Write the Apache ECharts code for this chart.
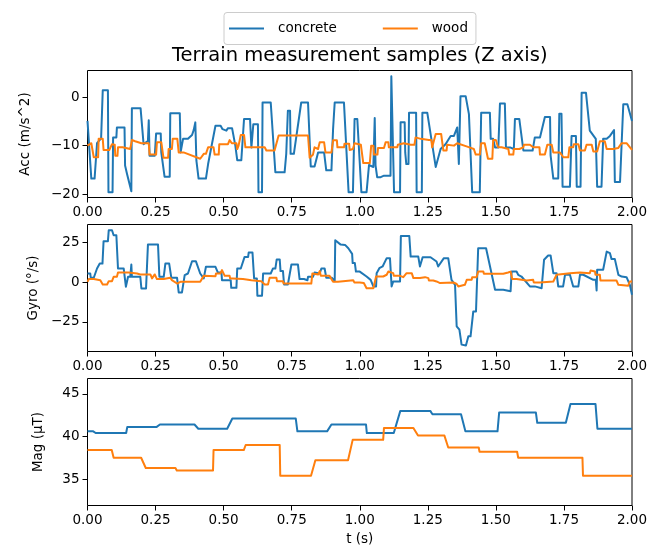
<!DOCTYPE html>
<html><head><meta charset="utf-8">
<script src="https://cdn.jsdelivr.net/npm/echarts@6/dist/echarts.min.js"></script>
<style>html,body{margin:0;padding:0;background:#fff}#c{width:660px;height:551px}</style>
</head><body><div id="c"></div>
<script>
// ---- data ----
const seriesNames = ['concrete', 'wood'];
const panelLabels = ['Acc (m/s^2)', 'Gyro (\u00b0/s)', 'Mag (\u00b5T)'];
const xTickValues = [0, 0.25, 0.5, 0.75, 1, 1.25, 1.5, 1.75, 2];
const accTicks = [-20, -10, 0];
const gyroTicks = [-25, 0, 25];
const magTicks = [35, 40, 45];

const accConcrete = [[0,-4.9],[0.002,-4.9],[0.014,-16.8],[0.026,-16.8],[0.035,-9.5],[0.05,-8.5],[0.056,1.4],[0.075,1.4],[0.077,-19.6],[0.092,-19.6],[0.094,-8.3],[0.106,-8.3],[0.108,-6.25],[0.136,-6.25],[0.138,-14.1],[0.145,-15.8],[0.161,-19.4],[0.163,-2.3],[0.195,-2.3],[0.206,-9.7],[0.222,-9.0],[0.225,-4.75],[0.228,-12.1],[0.247,-12.1],[0.252,-7.5],[0.269,-7.5],[0.271,-11.4],[0.283,-16.4],[0.302,-16.4],[0.304,-3.3],[0.339,-3.3],[0.342,-11.4],[0.349,-11.4],[0.351,-8.6],[0.369,-8.6],[0.384,-7.8],[0.39,-6.8],[0.396,-5.2],[0.4,-13.1],[0.408,-16.8],[0.435,-16.8],[0.443,-13.8],[0.47,-5.9],[0.489,-5.9],[0.496,-6.6],[0.51,-6.9],[0.516,-6.4],[0.531,-6.4],[0.543,-10.0],[0.55,-13.0],[0.565,-13.0],[0.575,-4.5],[0.597,-4.5],[0.602,-10.4],[0.607,-10.4],[0.609,-5.6],[0.626,-5.6],[0.628,-19.6],[0.641,-19.6],[0.643,-1.1],[0.673,-1.1],[0.69,-15.5],[0.724,-15.5],[0.73,-11.7],[0.736,-2.8],[0.744,-2.8],[0.746,-11.7],[0.758,-11.7],[0.785,-1.1],[0.81,-1.1],[0.82,-14.3],[0.834,-14.3],[0.847,-11.4],[0.869,-11.4],[0.877,-15.1],[0.896,-15.1],[0.902,-6.6],[0.908,-1.1],[0.942,-1.1],[0.959,-19.6],[0.975,-19.6],[0.981,-4.5],[0.991,-4.5],[1.006,-19.6],[1.025,-19.6],[1.034,-14.0],[1.05,-14.4],[1.055,-4.3],[1.058,-14.1],[1.064,-16.5],[1.077,-16.5],[1.089,-16.2],[1.113,-16.2],[1.116,4.3],[1.123,4.3],[1.126,-19.6],[1.148,-19.6],[1.15,-5.2],[1.165,-5.2],[1.167,-11.4],[1.171,-13.8],[1.179,-13.8],[1.181,-3.2],[1.207,-3.2],[1.209,-19.6],[1.228,-19.6],[1.23,-3.2],[1.248,-3.2],[1.266,-9.7],[1.279,-14.4],[1.285,-14.4],[1.297,-10.7],[1.315,-9.7],[1.334,-8.0],[1.346,-8.0],[1.358,-6.25],[1.364,-13.8],[1.37,0.2],[1.389,0.2],[1.401,-3.5],[1.413,-19.6],[1.441,-19.6],[1.446,-3.2],[1.478,-3.2],[1.481,-8.6],[1.49,-8.6],[1.497,-10.4],[1.509,-10.4],[1.515,-1.33],[1.533,-1.33],[1.537,-10.4],[1.554,-10.4],[1.566,-10.7],[1.57,-4.5],[1.586,-4.5],[1.601,-11.0],[1.635,-11.0],[1.643,-8.3],[1.662,-8.3],[1.68,-4.1],[1.699,-4.1],[1.701,-12.0],[1.711,-16.8],[1.729,-16.8],[1.733,-3.4],[1.741,-3.4],[1.745,-18.5],[1.772,-18.5],[1.778,-8.0],[1.794,-8.0],[1.797,-18.5],[1.811,-18.5],[1.815,0.9],[1.831,0.9],[1.845,-6.9],[1.867,-8.6],[1.872,-18.5],[1.888,-18.5],[1.894,-8.6],[1.907,-8.6],[1.919,-8.0],[1.934,-6.8],[1.937,-17.5],[1.956,-17.5],[1.968,-1.47],[1.983,-1.47],[2.0,-4.9]];

const accWood = [[0,-10.0],[0.014,-9.5],[0.023,-12.4],[0.039,-12.4],[0.041,-8.6],[0.056,-8.6],[0.059,-10.9],[0.08,-10.9],[0.09,-9.7],[0.1,-9.8],[0.102,-12.1],[0.11,-12.1],[0.112,-10.35],[0.129,-10.35],[0.133,-10.7],[0.157,-10.7],[0.163,-8.85],[0.175,-9.1],[0.198,-9.5],[0.225,-9.5],[0.228,-11.85],[0.252,-11.85],[0.255,-9.3],[0.271,-9.3],[0.279,-12.5],[0.296,-12.5],[0.298,-10.7],[0.31,-10.7],[0.313,-8.6],[0.33,-8.6],[0.335,-11.4],[0.353,-11.4],[0.414,-12.7],[0.427,-11.7],[0.435,-11.7],[0.443,-10.35],[0.463,-10.35],[0.467,-11.85],[0.482,-11.85],[0.484,-9.7],[0.516,-9.7],[0.522,-8.85],[0.53,-9.5],[0.547,-9.5],[0.55,-10.7],[0.555,-10.0],[0.561,-10.0],[0.563,-7.8],[0.575,-7.8],[0.58,-10.35],[0.651,-10.35],[0.657,-11.0],[0.687,-11.0],[0.702,-7.9],[0.81,-7.9],[0.816,-12.5],[0.828,-11.9],[0.834,-10.35],[0.847,-10.7],[0.853,-9.3],[0.869,-9.3],[0.874,-11.4],[0.896,-11.4],[0.902,-8.9],[0.916,-8.9],[0.918,-10.35],[0.942,-10.35],[0.944,-9.6],[0.961,-9.6],[0.963,-10.9],[0.975,-10.7],[0.981,-9.5],[1.004,-9.8],[1.013,-13.6],[1.037,-13.6],[1.042,-10.0],[1.05,-10.0],[1.052,-11.85],[1.065,-11.85],[1.067,-10.5],[1.089,-10.5],[1.095,-9.3],[1.105,-9.3],[1.107,-10.35],[1.138,-10.35],[1.14,-9.8],[1.162,-9.5],[1.187,-9.8],[1.201,-9.8],[1.205,-8.3],[1.224,-8.6],[1.254,-8.85],[1.263,-8.85],[1.266,-10.35],[1.272,-10.35],[1.279,-7.6],[1.299,-7.6],[1.307,-11.0],[1.319,-11.0],[1.321,-9.8],[1.346,-10.0],[1.358,-9.5],[1.395,-10.2],[1.419,-10.7],[1.426,-11.85],[1.441,-11.85],[1.446,-9.5],[1.459,-9.5],[1.471,-12.7],[1.487,-12.7],[1.49,-8.85],[1.5,-8.85],[1.508,-10.35],[1.521,-10.35],[1.527,-10.7],[1.546,-10.7],[1.549,-11.85],[1.564,-11.85],[1.566,-10.7],[1.586,-10.7],[1.601,-10.35],[1.603,-9.8],[1.625,-9.8],[1.637,-10.35],[1.66,-10.35],[1.662,-11.85],[1.68,-11.85],[1.689,-9.8],[1.705,-9.8],[1.711,-11.4],[1.735,-11.4],[1.748,-12.4],[1.766,-12.4],[1.77,-10.35],[1.784,-10.35],[1.786,-9.7],[1.803,-9.7],[1.809,-11.0],[1.827,-11.0],[1.833,-9.8],[1.852,-9.8],[1.858,-11.2],[1.872,-11.2],[1.882,-9.1],[1.9,-9.1],[1.907,-10.7],[1.931,-10.7],[1.949,-10.5],[1.962,-9.5],[1.98,-9.5],[2.0,-10.9]];

const gyroConcrete = [[0,5.4],[0.01,5.4],[0.012,2.7],[0.023,2.7],[0.035,8.5],[0.045,11.6],[0.055,11.6],[0.059,25.6],[0.075,25.6],[0.078,32.5],[0.09,32.5],[0.096,29.4],[0.106,29.4],[0.112,8.5],[0.133,8.5],[0.141,-2.9],[0.149,3.3],[0.157,3.3],[0.161,11.0],[0.163,3.3],[0.194,3.3],[0.198,-4.0],[0.215,-4.0],[0.222,23.5],[0.259,23.5],[0.264,3.3],[0.28,3.3],[0.286,11.6],[0.3,11.6],[0.308,2.7],[0.329,2.7],[0.335,-6.5],[0.347,-6.5],[0.357,4.4],[0.369,5.4],[0.384,13.1],[0.398,13.1],[0.414,5.4],[0.427,2.3],[0.433,2.3],[0.435,9.6],[0.47,9.6],[0.479,6.0],[0.492,6.0],[0.494,1.2],[0.526,1.2],[0.528,-3.6],[0.547,-3.6],[0.55,8.5],[0.563,8.5],[0.577,15.8],[0.59,15.8],[0.592,18.5],[0.606,18.5],[0.612,2.3],[0.622,2.3],[0.624,-8.6],[0.641,-8.6],[0.645,5.4],[0.673,5.4],[0.681,8.5],[0.69,8.5],[0.695,14.2],[0.706,14.2],[0.709,6.9],[0.718,6.9],[0.722,-1.5],[0.736,-1.5],[0.749,11.0],[0.773,11.0],[0.779,1.9],[0.795,1.9],[0.808,1.2],[0.81,3.3],[0.828,3.3],[0.834,6.0],[0.853,5.4],[0.859,8.5],[0.871,8.5],[0.877,2.7],[0.898,2.7],[0.908,0.6],[0.91,26.2],[0.93,23.5],[0.946,23.3],[0.958,21.2],[0.972,17.7],[0.974,11.9],[0.982,11.9],[0.986,6.6],[1.0,6.6],[1.025,3.5],[1.04,1.4],[1.05,-2.7],[1.06,-2.7],[1.062,5.6],[1.072,8.7],[1.084,9.8],[1.099,15.0],[1.111,15.0],[1.117,-2.7],[1.123,0.4],[1.148,0.4],[1.151,28.9],[1.182,28.9],[1.187,16.0],[1.215,16.0],[1.221,9.8],[1.227,9.8],[1.231,15.6],[1.26,15.6],[1.282,12.9],[1.288,9.8],[1.295,9.8],[1.309,15.0],[1.325,15.0],[1.337,1.4],[1.35,-1.7],[1.356,-27.7],[1.366,-29.8],[1.374,-39.2],[1.39,-39.8],[1.399,-34.0],[1.407,-34.0],[1.417,-18.4],[1.427,-18.4],[1.435,21.2],[1.464,21.2],[1.468,18.1],[1.497,-4.8],[1.527,-4.8],[1.554,-5.8],[1.558,6.6],[1.576,6.6],[1.582,4.6],[1.594,3.5],[1.625,-2.7],[1.643,-2.7],[1.668,-3.8],[1.677,14.0],[1.692,16.7],[1.701,16.7],[1.711,5.6],[1.723,5.6],[1.729,-2.7],[1.747,-2.7],[1.754,4.6],[1.772,4.6],[1.784,-2.7],[1.803,-2.7],[1.809,4.6],[1.821,4.6],[1.858,1.4],[1.867,1.4],[1.87,-5.2],[1.872,7.7],[1.894,7.7],[1.907,19.1],[1.919,18.1],[1.925,14.4],[1.937,14.4],[1.95,4.6],[1.962,3.5],[1.98,3.1],[1.992,-1.7],[2.0,-7.9]];

const gyroWood = [[0,0.2],[0.005,1.9],[0.023,1.9],[0.029,1.2],[0.047,1.2],[0.056,-1.5],[0.072,-1.5],[0.078,0.6],[0.09,0.6],[0.096,3.3],[0.108,3.3],[0.112,6.0],[0.151,6.0],[0.155,5.4],[0.182,5.4],[0.194,4.8],[0.231,4.8],[0.237,2.3],[0.243,2.3],[0.247,4.8],[0.25,4.8],[0.255,1.9],[0.28,1.9],[0.283,2.7],[0.304,2.7],[0.31,1.2],[0.329,-0.9],[0.341,0.2],[0.347,1.2],[0.414,0.2],[0.421,-0.9],[0.427,3.9],[0.47,3.7],[0.472,5.4],[0.488,5.4],[0.494,7.5],[0.498,7.9],[0.504,3.9],[0.522,3.9],[0.524,2.3],[0.534,2.3],[0.536,1.9],[0.571,1.9],[0.573,1.2],[0.602,1.2],[0.604,0.6],[0.638,0.6],[0.651,-1.5],[0.663,-1.5],[0.669,2.7],[0.694,2.7],[0.696,0.6],[0.718,0.6],[0.72,-0.9],[0.822,-0.9],[0.826,5.4],[0.847,4.8],[0.853,6.9],[0.857,3.9],[0.889,3.9],[0.902,0.2],[0.92,0.2],[0.922,1.2],[0.976,1.2],[0.98,-0.2],[1.0,-0.2],[1.002,-0.6],[1.015,-0.6],[1.025,-3.8],[1.05,-3.8],[1.06,3.5],[1.086,3.5],[1.088,4.6],[1.099,4.6],[1.105,6.6],[1.107,5.6],[1.123,5.6],[1.125,3.9],[1.148,3.9],[1.15,3.1],[1.16,3.1],[1.172,5.6],[1.191,5.6],[1.197,2.5],[1.221,2.5],[1.223,3.1],[1.24,3.1],[1.242,2.5],[1.252,2.5],[1.254,1.0],[1.27,1.0],[1.272,0.4],[1.282,0.4],[1.284,-0.6],[1.295,-0.6],[1.297,-0.2],[1.344,-0.2],[1.346,-1.2],[1.356,-1.2],[1.362,-2.7],[1.364,-1.7],[1.386,-1.7],[1.393,1.4],[1.411,1.4],[1.413,3.1],[1.429,3.1],[1.435,6.6],[1.454,6.6],[1.456,5.2],[1.527,5.2],[1.529,6.0],[1.545,6.0],[1.547,6.6],[1.554,6.6],[1.558,3.5],[1.56,1.9],[1.576,1.9],[1.578,1.0],[1.613,1.0],[1.615,1.4],[1.637,1.4],[1.639,-0.2],[1.662,-0.2],[1.664,0.4],[1.711,0.4],[1.723,4.6],[1.725,5.6],[1.772,5.6],[1.774,6.0],[1.809,6.0],[1.811,5.6],[1.845,5.6],[1.848,7.3],[1.85,6.6],[1.864,6.6],[1.866,4.6],[1.882,4.6],[1.884,1.0],[1.943,1.0],[1.95,-1.7],[1.952,-2.3],[1.986,-2.3],[1.992,0.4],[2.0,0.4]];

const magConcrete = [[0,40.6],[0.021,40.6],[0.03,40.4],[0.142,40.4],[0.146,41.1],[0.253,41.1],[0.266,41.4],[0.393,41.4],[0.407,40.9],[0.513,40.9],[0.532,42.1],[0.765,42.1],[0.771,40.6],[0.88,40.6],[0.896,41.4],[1.023,41.4],[1.026,40.4],[1.125,40.4],[1.149,43.0],[1.259,43.0],[1.267,42.6],[1.372,42.6],[1.388,40.6],[1.506,40.6],[1.512,42.8],[1.647,42.8],[1.652,41.6],[1.757,41.6],[1.774,43.8],[1.866,43.8],[1.873,40.9],[2.0,40.9]];

const magWood = [[0,38.4],[0.089,38.4],[0.096,37.5],[0.197,37.5],[0.214,36.3],[0.323,36.3],[0.328,36.0],[0.461,36.0],[0.463,38.4],[0.574,38.4],[0.581,39.0],[0.706,39.0],[0.708,35.4],[0.821,35.4],[0.837,37.2],[0.957,37.2],[0.974,39.6],[1.086,39.6],[1.089,41.0],[1.197,41.0],[1.214,40.1],[1.311,40.1],[1.325,38.7],[1.437,38.7],[1.44,38.2],[1.578,38.2],[1.582,37.5],[1.818,37.5],[1.82,35.4],[2.0,35.4]];

// ---- chart ----
const FONT = 'DejaVu Sans';
const COLORS = ['#1f77b4', '#ff7f0e'];
const minus = v => String(v).replace('-', '\u2212');
const panels = [
  {label: panelLabels[0], ticks: accTicks, min: -20.7, max: 5.5, top: 70.5, height: 127, gap: 55, data: [accConcrete, accWood]},
  {label: panelLabels[1], ticks: gyroTicks, min: -43.5, max: 36.1, top: 224.5, height: 127, gap: 42, data: [gyroConcrete, gyroWood]},
  {label: panelLabels[2], ticks: magTicks, min: 31.9, max: 46.8, top: 378.5, height: 127, gap: 42, data: [magConcrete, magWood]}
];
const textBase = {color: '#000', fontFamily: FONT, fontSize: 13.5};

const option = {
  animation: false,
  backgroundColor: '#fff',
  title: {
    text: 'Terrain measurement samples (Z axis)',
    left: 359.75, top: 46, textAlign: 'center', padding: 0,
    textStyle: {color: '#000', fontFamily: FONT, fontSize: 19.5, fontWeight: 'normal'}
  },
  legend: {
    data: seriesNames, top: 12.5, left: 224, orient: 'horizontal',
    icon: 'rect', itemWidth: 35, itemHeight: 2, itemGap: 46,
    padding: [9, 8, 9, 5], borderColor: '#cccccc', borderWidth: 1, borderRadius: 3,
    backgroundColor: 'rgba(255,255,255,0.8)',
    textStyle: {color: '#000', fontFamily: FONT, fontSize: 13.5, padding: [0, 0, 0, 9]}
  },
  grid: panels.map(p => ({left: 87.5, width: 544.5, top: p.top, height: p.height, show: true, borderColor: '#000', borderWidth: 1, backgroundColor: 'transparent', containLabel: false})),
  xAxis: panels.map((p, i) => ({
    type: 'value', gridIndex: i, min: 0, max: 2, interval: 0.25, position: 'bottom',
    name: i === 2 ? 't (s)' : '', nameLocation: 'middle', nameGap: 27,
    nameTextStyle: textBase,
    axisLine: {show: false, onZero: false},
    axisTick: {show: true, length: 5, lineStyle: {color: '#000', width: 1}},
    axisLabel: Object.assign({formatter: v => v.toFixed(2), margin: 8, customValues: xTickValues}, textBase),
    splitLine: {show: false}
  })),
  yAxis: panels.map((p, i) => ({
    type: 'value', gridIndex: i, min: p.min, max: p.max, position: 'left',
    name: p.label, nameLocation: 'middle', nameGap: p.gap,
    nameTextStyle: textBase,
    axisLine: {show: false, onZero: false},
    axisTick: {show: true, length: 5, lineStyle: {color: '#000', width: 1}, customValues: p.ticks},
    axisLabel: Object.assign({formatter: v => minus(v), margin: 8, customValues: p.ticks}, textBase),
    splitLine: {show: false}
  })),
  series: []
};
panels.forEach((p, i) => {
  p.data.forEach((d, k) => {
    option.series.push({
      type: 'line', name: seriesNames[k], xAxisIndex: i, yAxisIndex: i,
      data: d, showSymbol: false, symbol: 'none',
      lineStyle: {color: COLORS[k], width: 2, join: 'round'},
      itemStyle: {color: COLORS[k]}
    });
  });
});
const chart = echarts.init(document.getElementById('c'), null, {renderer: 'canvas'});
chart.setOption(option);
</script>
</body></html>
